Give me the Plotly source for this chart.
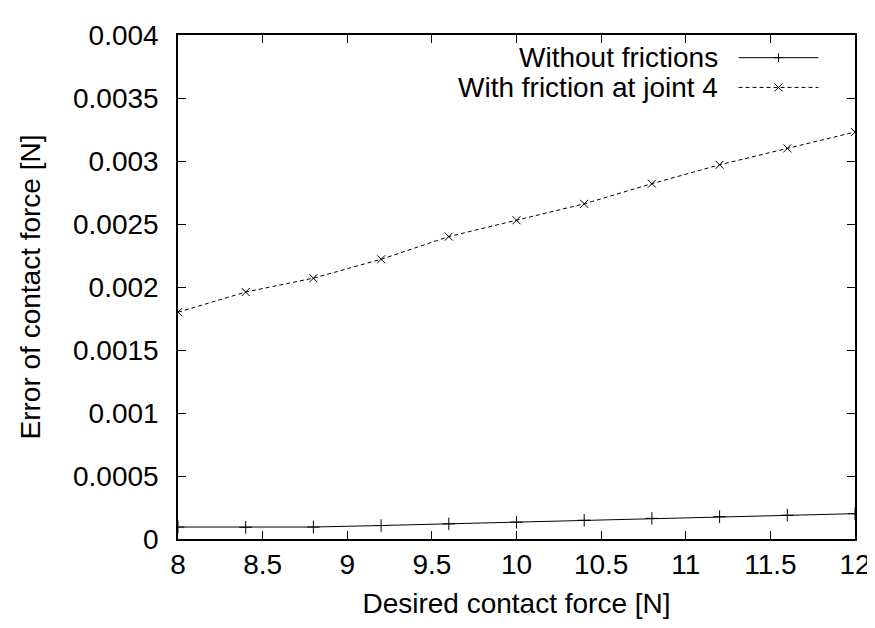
import plotly.graph_objects as go

desired_force = [8.0, 8.4, 8.8, 9.2, 9.6, 10.0, 10.4, 10.8, 11.2, 11.6, 12.0]
err_without = [0.000095, 0.000093, 0.000095, 0.000107, 0.000120, 0.000134,
               0.000149, 0.000164, 0.000177, 0.000189, 0.000201]
err_with = [0.00180, 0.00196, 0.00207, 0.00222, 0.00240, 0.00253,
            0.00266, 0.00282, 0.00297, 0.00310, 0.00323]
name_without = "Without frictions"
name_with = "With friction at joint 4"
x_ticks = [8, 8.5, 9, 9.5, 10, 10.5, 11, 11.5, 12]
x_tick_text = ["8", "8.5", "9", "9.5", "10", "10.5", "11", "11.5", "12"]
y_ticks = [0, 0.0005, 0.001, 0.0015, 0.002, 0.0025, 0.003, 0.0035, 0.004]
y_tick_text = ["0", "0.0005", "0.001", "0.0015", "0.002", "0.0025", "0.003", "0.0035", "0.004"]

FONT = "Liberation Sans, Arial, sans-serif"
FS = 28

fig = go.Figure()
fig.add_trace(go.Scatter(
    x=desired_force, y=err_without, mode="lines+markers", name=name_without,
    line=dict(color="black", width=1),
    marker=dict(symbol="cross-thin-open", size=9, color="black",
                line=dict(color="black", width=1)),
    showlegend=False))
fig.add_trace(go.Scatter(
    x=desired_force, y=err_with, mode="lines+markers", name=name_with,
    line=dict(color="black", width=1, dash="4px,3px"),
    marker=dict(symbol="x-thin-open", size=8, color="black",
                line=dict(color="black", width=1)),
    showlegend=False))

axis_common = dict(showline=True, linecolor="black", linewidth=1.5, mirror="ticks",
                   ticks="inside", ticklen=8, tickwidth=1, tickcolor="black",
                   showgrid=False, zeroline=False,
                   tickfont=dict(family=FONT, size=FS, color="black"))

fig.update_xaxes(range=[8, 12], tickvals=x_ticks, ticktext=x_tick_text,
                 ticklabelstandoff=0,
                 title=dict(text="Desired contact force [N]",
                            font=dict(family=FONT, size=FS, color="black"), standoff=14),
                 **axis_common)
fig.update_yaxes(range=[0, 0.004], tickvals=y_ticks, ticktext=y_tick_text,
                 ticklabelstandoff=12,
                 title=dict(text="Error of contact force [N]",
                            font=dict(family=FONT, size=FS, color="black"), standoff=24),
                 **axis_common)

# gnuplot-style legend: text right-aligned, sample to the right
legend_rows = [(name_without, 0.955, "solid", "cross"), (name_with, 0.896, "dash", "x")]
shapes = []
annotations = []
for label, yy, dash, mk in legend_rows:
    annotations.append(dict(xref="paper", yref="paper", x=0.80, y=yy, text=label,
                            showarrow=False, xanchor="right", yanchor="middle",
                            font=dict(family=FONT, size=FS, color="black")))
    shapes.append(dict(type="line", xref="paper", yref="paper", x0=0.828, x1=0.946,
                       y0=yy, y1=yy,
                       line=dict(color="black", width=1,
                                 dash="solid" if dash == "solid" else "4px,3px")))
    if mk == "cross":
        shapes.append(dict(type="line", xref="paper", yref="paper", xsizemode="pixel",
                           xanchor=0.887, x0=-4.5, x1=4.5, y0=yy, y1=yy,
                           line=dict(color="black", width=1)))
        shapes.append(dict(type="line", xref="paper", yref="paper", ysizemode="pixel",
                           yanchor=yy, x0=0.887, x1=0.887, y0=-4.5, y1=4.5,
                           line=dict(color="black", width=1)))
    else:
        shapes.append(dict(type="line", xref="paper", yref="paper", xsizemode="pixel",
                           ysizemode="pixel", xanchor=0.887, yanchor=yy,
                           x0=-4, x1=4, y0=-4, y1=4, line=dict(color="black", width=1)))
        shapes.append(dict(type="line", xref="paper", yref="paper", xsizemode="pixel",
                           ysizemode="pixel", xanchor=0.887, yanchor=yy,
                           x0=-4, x1=4, y0=4, y1=-4, line=dict(color="black", width=1)))

fig.update_layout(width=875, height=628,
                  margin=dict(l=170, r=23, t=22, b=97),
                  paper_bgcolor="white", plot_bgcolor="white",
                  font=dict(family=FONT, size=FS, color="black"),
                  shapes=shapes, annotations=annotations, showlegend=False)

fig.write_html("out.html")
